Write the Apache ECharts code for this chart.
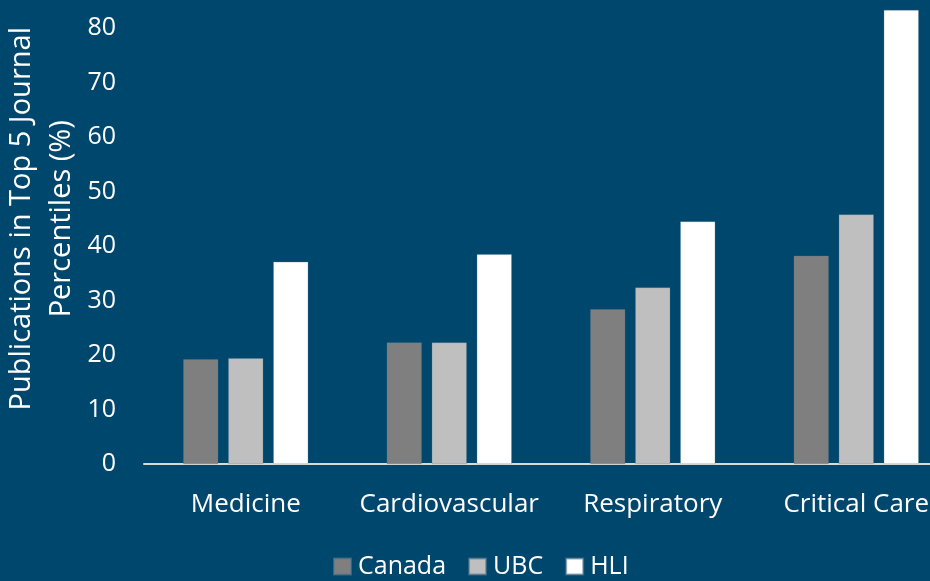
<!DOCTYPE html>
<html>
<head>
<meta charset="utf-8">
<script src="https://cdn.jsdelivr.net/npm/echarts@6/dist/echarts.min.js"></script>
<style>
html,body{margin:0;padding:0;background:#00476E;overflow:hidden;}
#chart{width:930px;height:581px;}
</style>
</head>
<body>
<div id="chart"></div>
<script>
const categories = ['Medicine', 'Cardiovascular', 'Respiratory', 'Critical Care'];
const canada = [19.2, 22.3, 28.4, 38.2];
const ubc = [19.4, 22.3, 32.4, 45.8];
const hli = [37.1, 38.5, 44.5, 83.3];
const seriesNames = ['Canada', 'UBC', 'HLI'];
const yTicks = [0, 10, 20, 30, 40, 50, 60, 70, 80, 90];

const FONT = '"Open Sans", "Noto Sans", sans-serif';
const chart = echarts.init(document.getElementById('chart'), null, {renderer: 'canvas'});
const colors = ['#7F7F7F', '#BFBFBF', '#FFFFFF'];
const data = [canada, ubc, hli];

chart.setOption({
  backgroundColor: '#00476E',
  animation: false,
  grid: {left: 144, right: -28, top: -26.5, bottom: 117, containLabel: false, outerBoundsMode: 'none'},
  legend: {
    data: seriesNames,
    left: 333, top: 554,
    padding: 0,
    itemWidth: 17, itemHeight: 16, itemGap: 22,
    icon: 'rect',
    textStyle: {color: '#FFFFFF', fontFamily: FONT, fontSize: 25, padding: [0, 0, 0, 2]}
  },
  xAxis: {
    type: 'category',
    data: categories,
    axisLine: {lineStyle: {color: '#D9D9D9', width: 2}},
    axisTick: {show: false},
    axisLabel: {color: '#FFFFFF', fontFamily: FONT, fontSize: 26, margin: 28, interval: 0}
  },
  yAxis: {
    type: 'value',
    min: yTicks[0], max: yTicks[yTicks.length - 1], interval: 10,
    name: 'Publications in Top 5 Journal\nPercentiles (%)',
    nameLocation: 'middle',
    nameRotate: 90,
    nameGap: 62,
    nameMoveOverlap: false,
    nameTextStyle: {color: '#FFFFFF', fontFamily: FONT, fontSize: 29, lineHeight: 40},
    axisLine: {show: false},
    axisTick: {show: false},
    splitLine: {show: false},
    axisLabel: {color: '#FFFFFF', fontFamily: FONT, fontSize: 25, margin: 28}
  },
  series: seriesNames.map((n, i) => ({
    name: n,
    type: 'bar',
    data: data[i],
    barWidth: 35,
    barGap: '28.6%',
    itemStyle: {color: colors[i], borderColor: 'rgba(90,120,140,0.6)', borderWidth: 0.5}
  }))
});
</script>
</body>
</html>
